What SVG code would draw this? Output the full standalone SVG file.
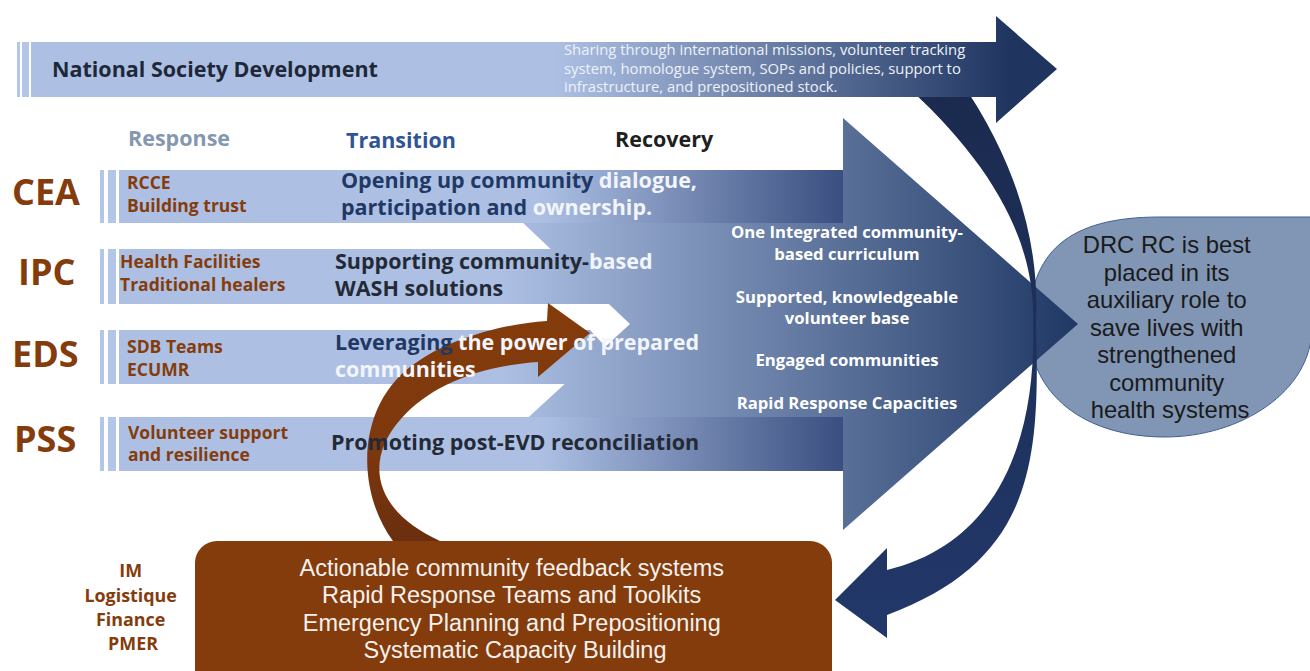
<svg xmlns="http://www.w3.org/2000/svg" width="1310" height="671" viewBox="0 0 1310 671">
  <defs>
    <linearGradient id="gTop" gradientUnits="userSpaceOnUse" x1="555" y1="0" x2="1010" y2="0">
      <stop offset="0" stop-color="#adc0e4"/>
      <stop offset="1" stop-color="#1f3560"/>
    </linearGradient>
    <linearGradient id="gChev" gradientUnits="userSpaceOnUse" x1="500" y1="0" x2="1078" y2="0">
      <stop offset="0" stop-color="#adc0e4"/>
      <stop offset="1" stop-color="#1f3864"/>
    </linearGradient>
    <linearGradient id="gRow" gradientUnits="userSpaceOnUse" x1="540" y1="0" x2="843" y2="0">
      <stop offset="0" stop-color="#adc0e4"/>
      <stop offset="1" stop-color="#3a4f80"/>
    </linearGradient>
    <linearGradient id="gArc" gradientUnits="userSpaceOnUse" x1="0" y1="80" x2="0" y2="640">
      <stop offset="0" stop-color="#1b2a4e"/>
      <stop offset="1" stop-color="#22386a"/>
    </linearGradient>
    <linearGradient id="gBrown" gradientUnits="userSpaceOnUse" x1="0" y1="300" x2="0" y2="541">
      <stop offset="0" stop-color="#853c0c"/>
      <stop offset="0.6" stop-color="#7d380d"/>
      <stop offset="1" stop-color="#6a2f0f"/>
    </linearGradient>
    <style>
      .stripe { fill: #b4c6e7; }
      .t { font-family: "Open Sans", "Liberation Sans", sans-serif; }
      .r { font-family: "Liberation Sans", Arial, sans-serif; }
      .head { font-size: 21.5px; font-weight: bold; }
      .code { font-size: 36px; font-weight: bold; fill: #843c0c; }
      .resp { font-size: 17.5px; font-weight: bold; fill: #843c0c; }
      .trans { font-size: 21.5px; font-weight: bold; }
      .navy { fill: #1f3864; }
      .dark { fill: #232a36; }
      .light { fill: #f2f5fb; }
      .rec { font-size: 16.7px; font-weight: bold; fill: #ffffff; text-anchor: middle; }
      .goal { font-size: 23.8px; fill: #1a1a1a; text-anchor: middle; }
      .box { font-size: 23.5px; fill: #f4f1ee; text-anchor: middle; }
      .sup { font-size: 17.9px; font-weight: bold; fill: #843c0c; text-anchor: middle; }
    </style>
  </defs>

  <!-- outcome: teardrop -->
  <g id="goal">
    <path d="M 1029,327 C 1029,252 1068,217 1160,217 L 1312,217 L 1312,327 C 1312,392 1240,437 1165,437 C 1085,437 1029,395 1029,327 Z" fill="#8196b4" stroke="#3f5f95" stroke-width="1"/>
  </g>

  <!-- merged recovery chevron -->
  <g id="recovery-arrow">
    <polygon points="483,185 843,185 843,118 1078,324 843,530 843,460 482,460 630,324" fill="url(#gChev)"/>
  </g>

  <!-- pillar rows -->
  <g id="row-cea">
    <rect class="stripe" x="100" y="170" width="4" height="53"/>
    <rect class="stripe" x="108" y="170" width="8" height="53"/>
    <rect x="119" y="170" width="724" height="53" fill="url(#gRow)"/>
  </g>
  <g id="row-ipc">
    <rect class="stripe" x="100" y="249" width="4" height="55"/>
    <rect class="stripe" x="108" y="249" width="8" height="55"/>
    <polygon points="119,249 610,249 635,276 610,304 119,304" fill="url(#gChev)"/>
  </g>
  <g id="row-eds">
    <rect class="stripe" x="100" y="330" width="4" height="54"/>
    <rect class="stripe" x="108" y="330" width="8" height="54"/>
    <polygon points="119,330 590,330 615,357 590,384 119,384" fill="url(#gChev)"/>
  </g>
  <g id="row-pss">
    <rect class="stripe" x="100" y="417" width="4" height="54"/>
    <rect class="stripe" x="108" y="417" width="8" height="54"/>
    <rect x="119" y="417" width="724" height="54" fill="url(#gRow)"/>
  </g>

  <!-- connectors -->
  <g id="connectors">
    <path id="feedback-loop" d="M 960,80 C 1015,160 1040,240 1036,323 C 1040,460 1035,560 887,615 L 887,638 L 835,600 L 887,548 L 887,570 C 1010,540 1036,420 1033,323 C 1036,240 990,160 900,80 Z" fill="url(#gArc)"/>
    <path id="support-arrow" d="M 393,541 C 355,490 355,400 420,360 C 450,340 500,324 547,321 L 548,303 L 590,333 L 538,377 L 538,362 C 480,366 430,385 400,420 C 365,460 372,510 440,541 Z" fill="url(#gBrown)"/>
  </g>

  <!-- national society development -->
  <g id="nsd">
    <rect class="stripe" x="17" y="42" width="3" height="55"/>
    <rect class="stripe" x="22" y="42" width="7" height="55"/>
    <polygon points="31,42 996,42 996,16 1057,69 996,123 996,97 31,97" fill="url(#gTop)"/>
    <text class="t head" x="52" y="77" fill="#1e2838">National Society Development</text>
    <text class="t" font-size="14.8" fill="#eef2fa">
      <tspan x="564" y="55">Sharing through international missions, volunteer tracking</tspan>
      <tspan x="564" y="74">system, homologue system, SOPs and policies, support to</tspan>
      <tspan x="564" y="92">infrastructure, and prepositioned stock.</tspan>
    </text>
  </g>

  <!-- phase headers -->
  <g id="phases">
    <text class="t head" x="128" y="146" fill="#8497b0">Response</text>
    <text class="t head" x="346" y="148" fill="#2f5597">Transition</text>
    <text class="t head" x="615" y="147" fill="#1f1f1f">Recovery</text>
  </g>

  <!-- row labels -->
  <g id="labels">
    <text class="t code" x="12" y="205">CEA</text>
    <text class="t code" x="18" y="285">IPC</text>
    <text class="t code" x="12" y="367">EDS</text>
    <text class="t code" x="14" y="452">PSS</text>

    <text class="t resp"><tspan x="127" y="189">RCCE</tspan><tspan x="127" y="212">Building trust</tspan></text>
    <text class="t resp"><tspan x="120" y="268">Health Facilities</tspan><tspan x="120" y="291">Traditional healers</tspan></text>
    <text class="t resp"><tspan x="127" y="353">SDB Teams</tspan><tspan x="127" y="376">ECUMR</tspan></text>
    <text class="t resp"><tspan x="128" y="439">Volunteer support</tspan><tspan x="128" y="461">and resilience</tspan></text>

    <text class="t trans" x="341" y="188"><tspan class="navy">Opening up community </tspan><tspan class="light">dialogue,</tspan></text>
    <text class="t trans" x="341" y="215"><tspan class="navy">participation and </tspan><tspan class="light">ownership.</tspan></text>
    <text class="t trans" x="335" y="269"><tspan class="dark">Supporting community-</tspan><tspan class="light">based</tspan></text>
    <text class="t trans dark" x="335" y="296">WASH solutions</text>
    <text class="t trans" x="335" y="350"><tspan class="navy">Leveraging</tspan><tspan class="light"> the power of prepared</tspan></text>
    <text class="t trans light" x="335" y="377">communities</text>
    <text class="t trans dark" x="331" y="450">Promoting post-EVD reconciliation</text>

    <text class="t rec" x="847" y="238">One Integrated community-</text>
    <text class="t rec" x="847" y="260">based curriculum</text>
    <text class="t rec" x="847" y="303">Supported, knowledgeable</text>
    <text class="t rec" x="847" y="324">volunteer base</text>
    <text class="t rec" x="847" y="366">Engaged communities</text>
    <text class="t rec" x="847" y="409">Rapid Response Capacities</text>

    <text class="r goal">
      <tspan x="1170" y="253">DRC RC is best</tspan>
      <tspan x="1170" y="281">placed in its</tspan>
      <tspan x="1170" y="308">auxiliary role to</tspan>
      <tspan x="1170" y="336">save lives with</tspan>
      <tspan x="1170" y="363">strengthened</tspan>
      <tspan x="1170" y="391">community</tspan>
      <tspan x="1170" y="418">health systems</tspan>
    </text>
  </g>

  <!-- preparedness foundation -->
  <g id="foundation">
    <rect x="195" y="541" width="637" height="160" rx="22" fill="#843c0c"/>
    <text class="r box">
      <tspan x="515" y="576">Actionable community feedback systems</tspan>
      <tspan x="515" y="603">Rapid Response Teams and Toolkits</tspan>
      <tspan x="515" y="631">Emergency Planning and Prepositioning</tspan>
      <tspan x="515" y="658">Systematic Capacity Building</tspan>
    </text>
  </g>

  <g id="support-functions">
    <text class="t sup">
      <tspan x="133" y="577">IM</tspan>
      <tspan x="133" y="602">Logistique</tspan>
      <tspan x="133" y="626">Finance</tspan>
      <tspan x="133" y="650">PMER</tspan>
    </text>
  </g>
</svg>
